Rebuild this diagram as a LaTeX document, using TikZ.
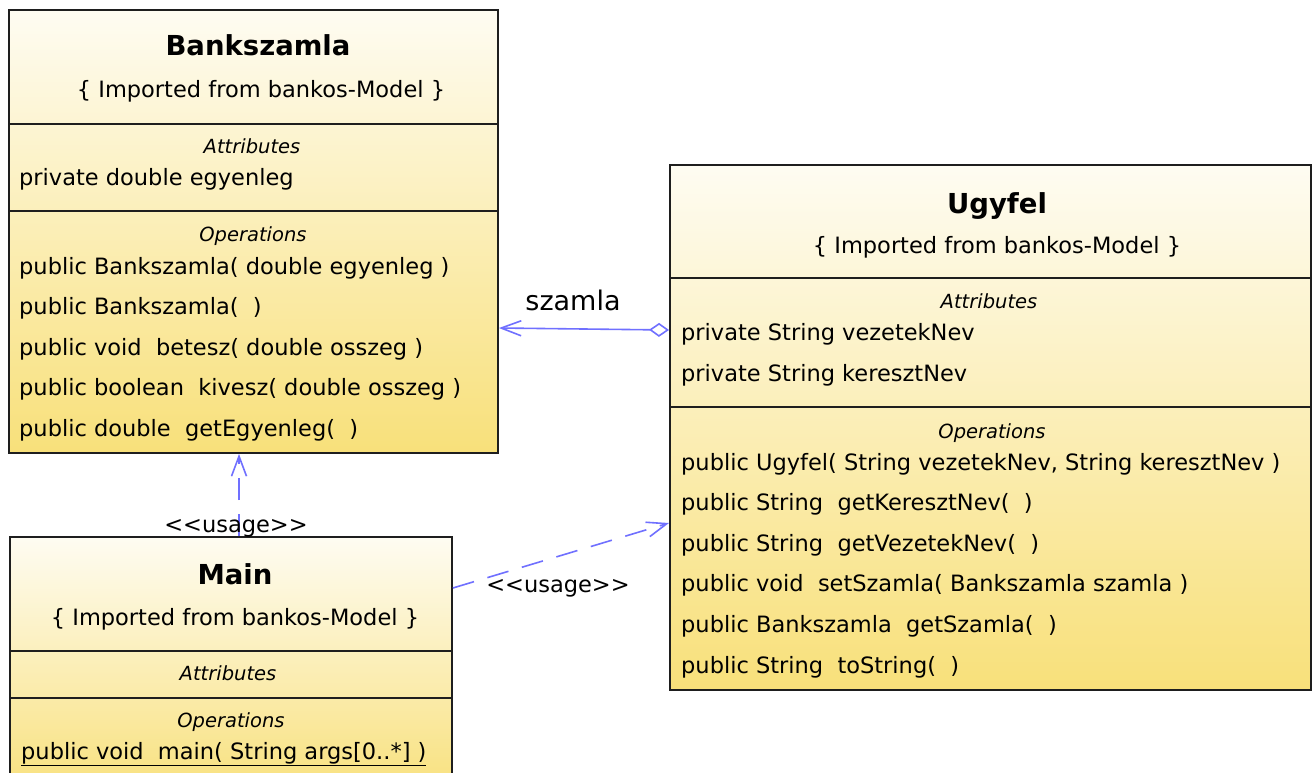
\documentclass[tikz,border=0pt]{standalone}
\usepackage{fontspec}
\setmainfont{DejaVu Sans}[Ligatures=TeXOff]
\usetikzlibrary{arrows.meta}
\definecolor{umltop}{RGB}{254,252,242}
\definecolor{umlbot}{RGB}{248,224,122}
\definecolor{umlline}{RGB}{30,30,30}
\definecolor{connblue}{RGB}{112,112,255}
\tikzset{
  umlbox/.style={draw=umlline, line width=1.9pt, top color=umltop, bottom color=umlbot, inner sep=0pt, anchor=north west},
  divider/.style={draw=umlline, line width=1.9pt},
  titletext/.style={font=\fontsize{27.5}{30}\selectfont\bfseries, anchor=base, inner sep=0pt},
  subtext/.style={font=\fontsize{22.5}{26}\selectfont, anchor=base, inner sep=0pt},
  sectext/.style={font=\fontsize{19.5}{22}\selectfont\itshape, anchor=base, inner sep=0pt},
  member/.style={font=\fontsize{22.5}{26}\selectfont, anchor=base west, inner sep=0pt},
  connlbl/.style={font=\fontsize{22.5}{26}\selectfont, anchor=base, inner sep=0pt},
  connline/.style={draw=connblue, line width=1.6pt},
  usagearrow/.style={connline, dash pattern=on 22pt off 14pt, -{Straight Barb[length=20pt,width=15pt,line width=1.6pt]}},
  assocarrow/.style={connline, {Diamond[length=20pt,width=14pt,fill=white,line width=1.6pt]}-{Straight Barb[length=20pt,width=15pt,line width=1.6pt]}}
}
\begin{document}
\begin{tikzpicture}[x=1pt,y=-1pt]
\clip (0,0) rectangle (1312,772);
\fill[white] (0,0) rectangle (1312,772);

% ---------- Bankszamla ----------
\node[umlbox, minimum width=489pt, minimum height=443pt] (bank) at (8,9) {};
\draw[divider] (bank.west |- 0,124) -- (bank.east |- 0,124);
\draw[divider] (bank.west |- 0,211) -- (bank.east |- 0,211);
\node[titletext] (bankT) at (258,55) {Bankszamla};
\node[subtext] (bankS) at (261,97) {\{ Imported from bankos-Model \}};
\node[sectext] (bankA) at (252,153) {Attributes};
\node[member] (bankA1) at (19,185) {private double egyenleg};
\node[sectext] (bankO) at (253,241) {Operations};
\node[member] (bankO1) at (19,274) {public Bankszamla( double egyenleg )};
\node[member] (bankO2) at (19,314) {public Bankszamla(\ \ )};
\node[member] (bankO3) at (19,355) {public void\ \ betesz( double osszeg )};
\node[member] (bankO4) at (19,395) {public boolean\ \ kivesz( double osszeg )};
\node[member] (bankO5) at (19,436) {public double\ \ getEgyenleg(\ \ )};

% ---------- Ugyfel ----------
\node[umlbox, minimum width=641pt, minimum height=525pt] (ugyfel) at (669,164) {};
\draw[divider] (ugyfel.west |- 0,278) -- (ugyfel.east |- 0,278);
\draw[divider] (ugyfel.west |- 0,407) -- (ugyfel.east |- 0,407);
\node[titletext] (ugyT) at (997,213) {Ugyfel};
\node[subtext] (ugyS) at (997,253) {\{ Imported from bankos-Model \}};
\node[sectext] (ugyA) at (989,308) {Attributes};
\node[member] (ugyA1) at (681,340) {private String vezetekNev};
\node[member] (ugyA2) at (681,381) {private String keresztNev};
\node[sectext] (ugyO) at (992,438) {Operations};
\node[member] (ugyO1) at (681,470) {public Ugyfel( String vezetekNev, String keresztNev )};
\node[member] (ugyO2) at (681,510) {public String\ \ getKeresztNev(\ \ )};
\node[member] (ugyO3) at (681,551) {public String\ \ getVezetekNev(\ \ )};
\node[member] (ugyO4) at (681,591) {public void\ \ setSzamla( Bankszamla szamla )};
\node[member] (ugyO5) at (681,632) {public Bankszamla\ \ getSzamla(\ \ )};
\node[member] (ugyO6) at (681,673) {public String\ \ toString(\ \ )};

% ---------- Main ----------
\node[umlbox, minimum width=442pt, minimum height=262pt] (main) at (9,536) {};
\draw[divider] (main.west |- 0,651) -- (main.east |- 0,651);
\draw[divider] (main.west |- 0,698) -- (main.east |- 0,698);
\node[titletext] (mainT) at (235,584) {Main};
\node[subtext] (mainS) at (235,625) {\{ Imported from bankos-Model \}};
\node[sectext] (mainA) at (228,680) {Attributes};
\node[sectext] (mainO) at (231,727) {Operations};
\node[member] (mainO1) at (21,759) {\underline{public void\ \ main( String args[0..*] )}};

% ---------- connectors ----------
\draw[assocarrow] (ugyfel.west |- 0,330) -- (bank.east |- 0,328);
\node[connlbl, font=\fontsize{27}{30}\selectfont] (lblSzamla) at (573,310) {szamla};

\draw[usagearrow] (main.north -| 239,0) -- (bank.south -| 239,0);
\node[connlbl] (lblUsage1) at (236,532) {<<usage>>};

\draw[usagearrow] (main.east |- 0,588) -- (ugyfel.west |- 0,523);
\node[connlbl] (lblUsage2) at (558,592) {<<usage>>};
\end{tikzpicture}
\end{document}
